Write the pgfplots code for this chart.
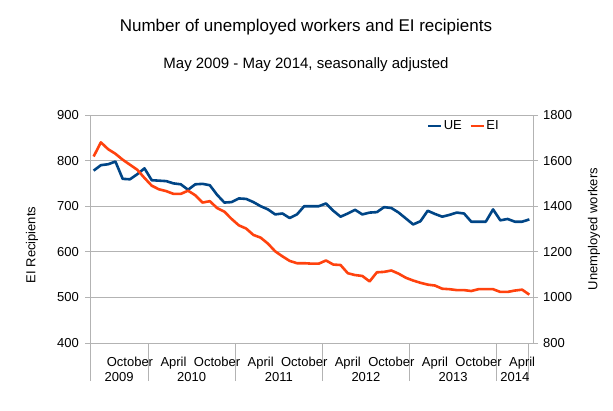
\documentclass[border=0pt]{standalone}
\usepackage{fontspec}
\setmainfont{Liberation Sans}
\usepackage{pgfplots}
\usepackage{pgfplotstable}
\pgfplotsset{compat=1.18}
\definecolor{ueblue}{HTML}{004586}
\definecolor{eiorange}{HTML}{FF420E}
\definecolor{axisgray}{HTML}{B3B3B3}

% m = month index from May 2009, ei and ue in thousands
\pgfplotstableread{
m ei ue
0 809 1556
1 840 1580
2 825 1584
3 815 1596
4 802 1520
5 791 1518
6 780 1540
7 762 1566
8 745 1514
9 737 1512
10 733 1510
11 727 1500
12 727 1496
13 734 1472
14 724 1496
15 708 1498
16 711 1492
17 696 1450
18 688 1416
19 672 1418
20 658 1434
21 651 1432
22 637 1418
23 631 1400
24 618 1386
25 601 1364
26 590 1368
27 580 1348
28 575 1364
29 575 1400
30 574 1400
31 574 1400
32 581 1412
33 572 1380
34 571 1354
35 553 1368
36 549 1384
37 547 1364
38 535 1372
39 555 1374
40 556 1396
41 559 1392
42 552 1372
43 543 1346
44 537 1320
45 532 1334
46 528 1380
47 526 1366
48 519 1354
49 518 1362
50 516 1372
51 516 1368
52 514 1332
53 518 1332
54 518 1332
55 518 1386
56 512 1338
57 512 1344
58 515 1332
59 517 1332
60 506 1342
}\jobs

\pgfplotsset{
  common/.style={
    scale only axis, width=443pt, height=228pt,
    at={(90pt,67pt)}, anchor=south west,
    xmin=0, xmax=61,
    axis x line*=bottom,
    tick align=outside,
    major tick length=5pt, minor tick length=11pt,
    every tick/.style={axisgray, line width=0.8pt},
    axis line style={axisgray, line width=0.8pt},
    tick label style={font=\fontsize{13}{15}\selectfont, text=black},
    label style={font=\fontsize{13}{15}\selectfont},
    /pgf/number format/assume math mode=true,
    /pgf/number format/1000 sep={},
  },
}

\begin{document}
\begin{tikzpicture}[x=1pt,y=1pt]
\useasboundingbox (0,0) rectangle (613,410);
\node[anchor=base, font=\fontsize{17}{20}\selectfont] at (306,378) {Number of unemployed workers and EI recipients};
\node[anchor=base, font=\fontsize{15}{18}\selectfont] at (306,341) {May 2009 - May 2014, seasonally adjusted};

% unemployed workers, right axis
\begin{axis}[common,
  axis y line*=right,
  ymin=800, ymax=1800, ytick={800,1000,...,1800},
  ymajorgrids, grid style={axisgray, line width=0.8pt},
  xtick=\empty,
  minor xtick={1,...,60},
  extra x ticks={0,8,20,32,44,56,60.4},
  extra x tick labels={},
  extra x tick style={major tick length=38pt},
  yticklabel style={anchor=west, inner sep=0pt, xshift=5pt},
  ylabel={Unemployed workers},
  ylabel style={at={(rel axis cs:1.1377,0.5)}, anchor=center},
]
\addplot[ueblue, line width=2.6pt, line join=round, mark=none]
  table[x expr=\thisrow{m}+0.5, y=ue] {\jobs};
\end{axis}

% EI recipients, left axis
\begin{axis}[common,
  axis y line*=left,
  ymin=400, ymax=900, ytick={400,500,...,900},
  xtick={5.5,11.5,17.5,23.5,29.5,35.5,41.5,47.5,53.5,59.5},
  xticklabels={October,April,October,April,October,April,October,April,October,April},
  xtick style={draw=none},
  xticklabel style={anchor=base, inner sep=0pt, yshift=-18pt},
  extra x ticks={4,14,26,38,50,58.5},
  extra x tick labels={2009,2010,2011,2012,2013,2014},
  extra x tick style={xticklabel style={yshift=-15pt}},
  yticklabel style={anchor=east, inner sep=0pt, xshift=-6pt},
  ylabel={EI Recipients},
  ylabel style={at={(rel axis cs:-0.131,0.43)}, anchor=center},
  legend style={at={(0.76,0.952)}, anchor=west, draw=none, fill=none,
    inner sep=0pt, legend columns=2, font=\fontsize{13}{15}\selectfont,
    nodes={inner sep=1.5pt},
    /tikz/every even column/.append style={column sep=6pt}},
  legend image code/.code={\draw[#1] (0pt,0pt) -- (13pt,0pt);},
]
\addlegendimage{ueblue, line width=2.4pt}
\addlegendentry{UE}
\addplot[eiorange, line width=2.6pt, line join=round, mark=none]
  table[x expr=\thisrow{m}+0.5, y=ei] {\jobs};
\addlegendentry{EI}
\end{axis}
\end{tikzpicture}
\end{document}
